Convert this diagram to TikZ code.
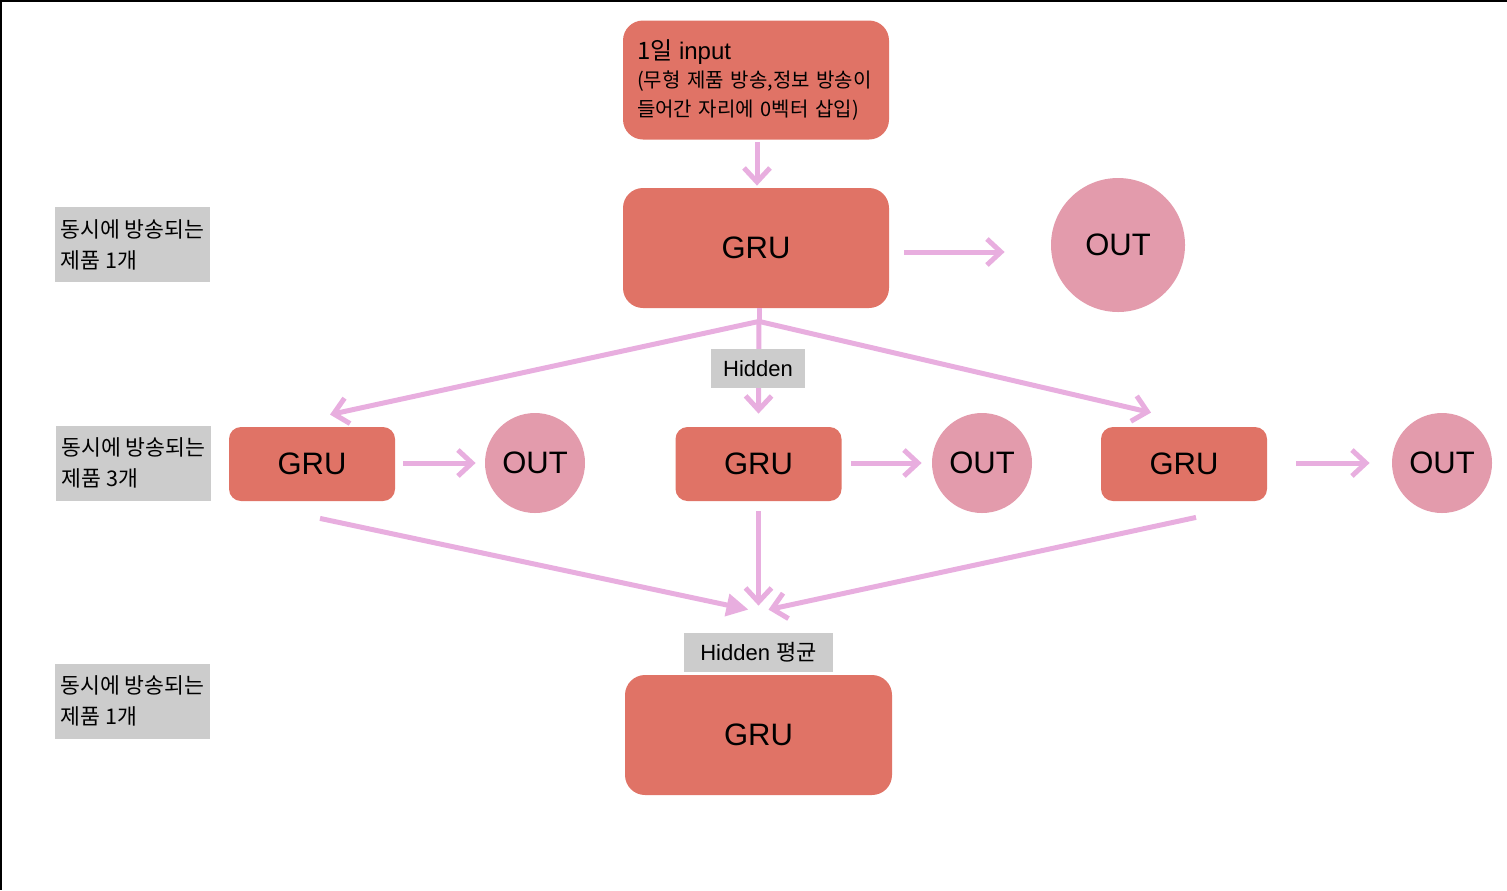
\documentclass[tikz,border=0pt]{standalone}
\usepackage{fontspec}
\setmainfont{Liberation Sans}
\newfontfamily\kr{Noto Sans CJK KR}
\newfontfamily\lat{Liberation Sans}
\usetikzlibrary{arrows.meta,calc}
\definecolor{grufill}{RGB}{224,115,102}
\definecolor{outfill}{RGB}{227,155,172}
\definecolor{arrcol}{RGB}{232,174,223}
\definecolor{labgray}{RGB}{204,204,204}
\begin{document}
\begin{tikzpicture}[x=0.5pt,y=-0.5pt,
  bigbox/.style={fill=grufill,rounded corners=10pt,minimum width=133pt,minimum height=60pt,inner sep=0pt,font=\lat\fontsize{15.5}{18}\selectfont},
  smallbox/.style={fill=grufill,rounded corners=6pt,minimum width=83pt,minimum height=37pt,inner sep=0pt,font=\lat\fontsize{15.5}{18}\selectfont},
  outbig/.style={circle,fill=outfill,minimum size=67pt,inner sep=0pt,font=\lat\fontsize{15.5}{18}\selectfont},
  outsmall/.style={circle,fill=outfill,minimum size=50pt,inner sep=0pt,font=\lat\fontsize{15.5}{18}\selectfont},
  sidelabel/.style={fill=labgray,minimum width=77.5pt,minimum height=37.5pt,inner sep=0pt,align=left,font=\kr\fontsize{10.8}{15.5}\selectfont},
  hidlabel/.style={fill=labgray,minimum height=19.5pt,inner sep=0pt,font=\lat\fontsize{11}{13}\selectfont},
  flow/.style={draw=arrcol,line width=2.5pt,-{Straight Barb[length=7pt,width=13pt]}},
  flowfill/.style={draw=arrcol,line width=2.5pt,-{Triangle[length=11pt,width=11pt]}},
  plainline/.style={draw=arrcol,line width=2.5pt}
]
\useasboundingbox (0,0) rectangle (1507,890);
\draw[line width=1pt,black] (0,1) -- (1507,1);
\draw[line width=1pt,black] (1,0) -- (1,890);

% nodes
\node[bigbox,align=left,text width=119pt,inner xsep=7pt,minimum height=59.5pt,font=\kr\fontsize{10}{14.3}\selectfont] (top) at (756,80)
  {{\fontsize{12}{14.3}\selectfont 1일{\lat{} input}}\\(무형 제품 방송,정보 방송이\\들어간 자리에 0벡터 삽입)};
\node[bigbox] (g1) at (756,248) {GRU};
\node[outbig] (o1) at (1118,245) {OUT};

\node[smallbox] (g2a) at (312,464) {GRU};
\node[smallbox] (g2b) at (758.5,464) {GRU};
\node[smallbox] (g2c) at (1184,464) {GRU};
\node[outsmall] (o2a) at (535,463) {OUT};
\node[outsmall] (o2b) at (982,463) {OUT};
\node[outsmall] (o2c) at (1442,463) {OUT};

\node[bigbox,minimum width=133.5pt] (g3) at (758.5,735) {GRU};

\node[sidelabel] (s1) at (132.5,244.5) {동시에 방송되는\\제품 1개};
\node[sidelabel] (s2) at (133.5,463) {동시에 방송되는\\제품 3개};
\node[sidelabel] (s3) at (132.5,701) {동시에 방송되는\\제품 1개};

% connectors
\draw[flow] ($(top.south)+(1,2)$) -- ($(g1.north)+(1,-2)$);
\draw[flow] ($(g1.east)+(15,4)$) -- ($(o1.west)+(-46,7)$);

\coordinate (split) at ($(g1.south)+(3,13)$);
\draw[plainline] ($(g1.south)+(3,0)$) -- (split);
\draw[flow] (split) -- ($(g2a.north)+(18,-12)$);
\draw[flow] (split) -- ($(g2b.north)+(0,-13)$);
\draw[flow] (split) -- ($(g2c.north)+(-33,-14)$);

\draw[flow] ($(g2a.east)+(8,-1)$) -- ($(o2a.west)+(-9,0)$);
\draw[flow] ($(g2b.east)+(9,-1)$) -- ($(o2b.west)+(-10,0)$);
\draw[flow] ($(g2c.east)+(29,-1)$) -- ($(o2c.west)+(-22,0)$);

\draw[flowfill] ($(g2a.south)+(8,17)$) -- ($(g3.north)+(-10,-65)$);
\draw[flow] ($(g2b.south)+(0,10)$) -- ($(g3.north)+(0,-69)$);
\draw[flow] ($(g2c.south)+(12,16)$) -- ($(g3.north)+(10,-65)$);

\node[hidlabel,minimum width=47pt] (h1) at (758,368.5) {Hidden};
\node[hidlabel,minimum width=74.5pt] (h2) at (758.5,652.5) {Hidden {\kr 평균}};
\end{tikzpicture}
\end{document}
